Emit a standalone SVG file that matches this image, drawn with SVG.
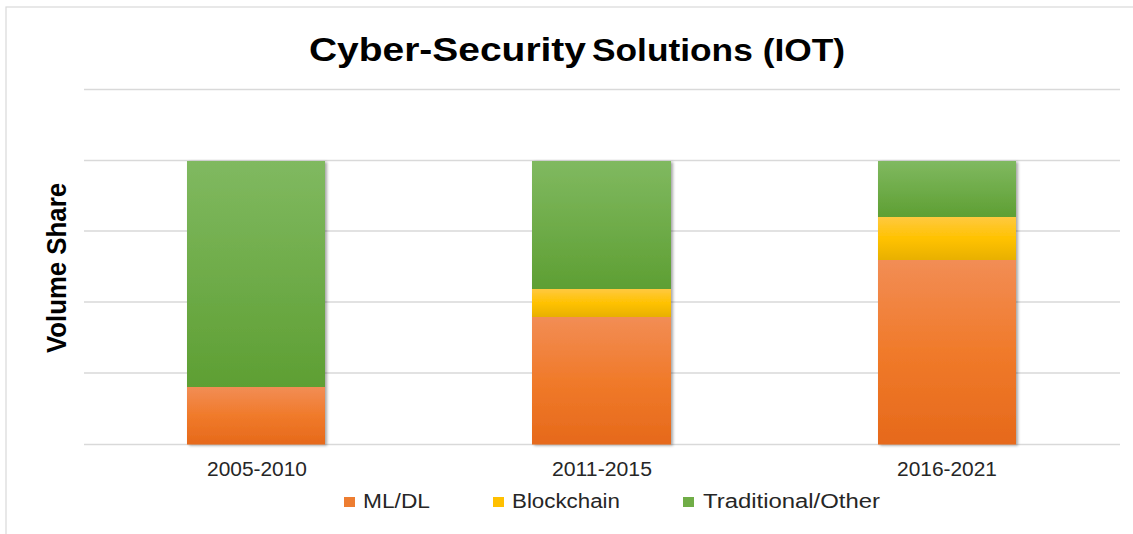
<svg xmlns="http://www.w3.org/2000/svg" width="1133" height="534" viewBox="0 0 1133 534">
  <defs>
    <linearGradient id="gGreen" x1="0" y1="0" x2="0" y2="1">
      <stop offset="0" stop-color="#80b960"/>
      <stop offset="1" stop-color="#5e9f33"/>
    </linearGradient>
    <linearGradient id="gOrange" x1="0" y1="0" x2="0" y2="1">
      <stop offset="0" stop-color="#f28d55"/>
      <stop offset="0.5" stop-color="#f07a2a"/>
      <stop offset="1" stop-color="#e6691b"/>
    </linearGradient>
    <linearGradient id="gYellow" x1="0" y1="0" x2="0" y2="1">
      <stop offset="0" stop-color="#ffc940"/>
      <stop offset="0.5" stop-color="#ffc200"/>
      <stop offset="1" stop-color="#e8b000"/>
    </linearGradient>
    <filter id="shadow" x="-10%" y="-5%" width="120%" height="110%">
      <feGaussianBlur in="SourceAlpha" stdDeviation="1.5"/>
      <feOffset dx="1.5" dy="0.5" result="b"/>
      <feComponentTransfer><feFuncA type="linear" slope="0.35"/></feComponentTransfer>
      <feMerge><feMergeNode/><feMergeNode in="SourceGraphic"/></feMerge>
    </filter>
  </defs>
  <style>
    .grid { stroke: #d9d9d9; stroke-width: 1.5; }
    .cat { font-family: "Liberation Sans", Arial, sans-serif; font-size: 20px; fill: #262626; text-anchor: middle; }
    .leg { font-family: "Liberation Sans", Arial, sans-serif; font-size: 20px; fill: #262626; }
    .title { font-family: "Liberation Sans", Arial, sans-serif; font-weight: bold; fill: #000; }
  </style>
  <rect x="0" y="0" width="1133" height="534" fill="#ffffff"/>
  <rect x="6" y="7" width="1140" height="540" fill="none" stroke="#d9d9d9" stroke-width="1.2"/>

  <g id="title">
    <text class="title" x="309" y="61" font-size="34" textLength="277" lengthAdjust="spacingAndGlyphs">Cyber-Security</text>
    <text class="title" x="592" y="61" font-size="31" textLength="253" lengthAdjust="spacingAndGlyphs">Solutions (IOT)</text>
  </g>

  <g id="gridlines">
    <line class="grid" x1="84" y1="89.5" x2="1120" y2="89.5"/>
    <line class="grid" x1="84" y1="160.5" x2="1120" y2="160.5"/>
    <line class="grid" x1="84" y1="231" x2="1120" y2="231"/>
    <line class="grid" x1="84" y1="302" x2="1120" y2="302"/>
    <line class="grid" x1="84" y1="373" x2="1120" y2="373"/>
    <line class="grid" x1="84" y1="444.5" x2="1120" y2="444.5"/>
  </g>

  <g id="yaxis-title">
    <text class="title" font-size="28" transform="translate(66,268) rotate(-90)" text-anchor="middle" textLength="170" lengthAdjust="spacingAndGlyphs">Volume Share</text>
  </g>

  <g id="bar-2005-2010" filter="url(#shadow)">
    <rect x="187" y="161" width="138" height="226" fill="url(#gGreen)"/>
    <rect x="187" y="387" width="138" height="57.5" fill="url(#gOrange)"/>
  </g>
  <g id="bar-2011-2015" filter="url(#shadow)">
    <rect x="532" y="161" width="139" height="128" fill="url(#gGreen)"/>
    <rect x="532" y="289" width="139" height="28" fill="url(#gYellow)"/>
    <rect x="532" y="317" width="139" height="127.5" fill="url(#gOrange)"/>
  </g>
  <g id="bar-2016-2021" filter="url(#shadow)">
    <rect x="878" y="161" width="138" height="56" fill="url(#gGreen)"/>
    <rect x="878" y="217" width="138" height="43" fill="url(#gYellow)"/>
    <rect x="878" y="260" width="138" height="184.5" fill="url(#gOrange)"/>
  </g>

  <g id="category-labels">
    <text class="cat" x="257" y="476" textLength="100" lengthAdjust="spacingAndGlyphs">2005-2010</text>
    <text class="cat" x="602" y="476" textLength="100" lengthAdjust="spacingAndGlyphs">2011-2015</text>
    <text class="cat" x="947" y="476" textLength="100" lengthAdjust="spacingAndGlyphs">2016-2021</text>
  </g>

  <g id="legend">
    <g id="legend-mldl">
      <rect x="344" y="497" width="11" height="10" fill="#ed7d31"/>
      <text class="leg" x="363" y="507.5" textLength="67" lengthAdjust="spacingAndGlyphs">ML/DL</text>
    </g>
    <g id="legend-blockchain">
      <rect x="493" y="497" width="11" height="10" fill="#ffc000"/>
      <text class="leg" x="512" y="507.5" textLength="108" lengthAdjust="spacingAndGlyphs">Blockchain</text>
    </g>
    <g id="legend-traditional">
      <rect x="683" y="497" width="11" height="10" fill="#70ad47"/>
      <text class="leg" x="703" y="507.5" textLength="177" lengthAdjust="spacingAndGlyphs">Traditional/Other</text>
    </g>
  </g>
  <g id="connectors"/>
</svg>
